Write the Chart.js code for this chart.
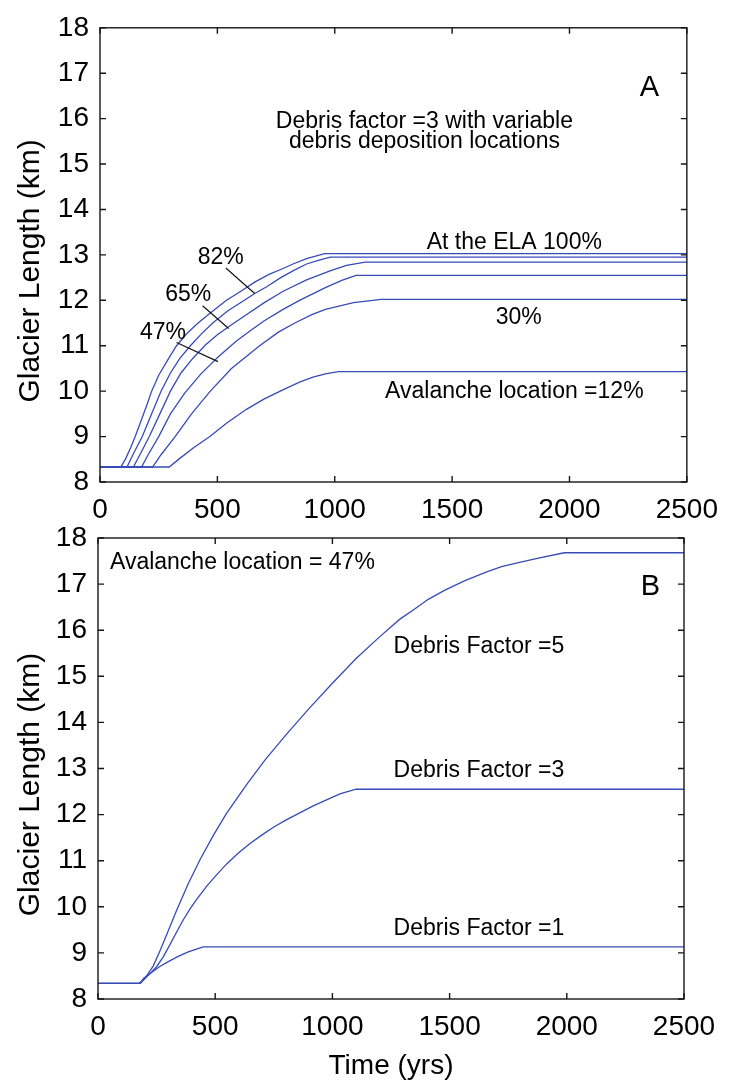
<!DOCTYPE html>
<html>
<head>
<meta charset="utf-8">
<script src="https://cdn.jsdelivr.net/npm/chart.js@4.4.0/dist/chart.umd.min.js"></script>
<style>
  html, body { margin: 0; padding: 0; background: #fff; }
  body { width: 729px; height: 1084px; position: relative; overflow: hidden; }
  .panel { position: absolute; left: 0; width: 729px; }
  #panelA { top: 0; height: 530px; }
  #panelB { top: 510px; height: 574px; }
</style>
</head>
<body>
<div class="panel" id="panelA"><canvas id="chartA"></canvas></div>
<div class="panel" id="panelB"><canvas id="chartB"></canvas></div>
<script>
const timeTicks = [0, 500, 1000, 1500, 2000, 2500];
const lengthTicks = [8, 9, 10, 11, 12, 13, 14, 15, 16, 17, 18];

// panel A: debris factor 3, avalanche location (% of distance to ELA)
// pairs are [time (yrs), glacier length (km)]
const ela100 = [[0,8.33],[89,8.33],[110,8.52],[130,8.75],[150,9.0],[175,9.35],[200,9.7],[220,10.0],[250,10.35],[290,10.7],[326,11.0],[370,11.27],[418,11.5],[470,11.72],[539,12.0],[600,12.2],[659,12.4],[720,12.57],[780,12.7],[822,12.8],[880,12.92],[957,13.03],[2500,13.03]];
const ela82 = [[0,8.33],[115,8.33],[140,8.6],[180,9.0],[220,9.5],[260,10.0],[300,10.4],[340,10.72],[385,11.0],[430,11.25],[480,11.5],[545,11.77],[615,12.0],[659,12.15],[710,12.3],[770,12.5],[830,12.67],[880,12.8],[930,12.88],[981,12.95],[2500,12.95]];
const ela65 = [[0,8.33],[142,8.33],[170,8.6],[210,9.0],[255,9.5],[300,10.0],[345,10.4],[395,10.72],[450,11.02],[500,11.24],[548,11.42],[620,11.67],[700,11.95],[780,12.2],[880,12.45],[980,12.65],[1050,12.77],[1130,12.84],[2500,12.84]];
const ela47 = [[0,8.33],[177,8.33],[205,8.6],[250,9.0],[300,9.5],[360,9.95],[430,10.38],[503,10.75],[580,11.1],[640,11.33],[700,11.55],[780,11.8],[850,12.0],[960,12.28],[1030,12.44],[1091,12.55],[2500,12.55]];
const ela30 = [[0,8.33],[224,8.33],[260,8.6],[320,9.0],[390,9.5],[470,10.0],[560,10.5],[680,11.0],[760,11.3],[830,11.5],[900,11.68],[960,11.8],[1080,11.95],[1198,12.02],[2500,12.02]];
const ela12 = [[0,8.33],[295,8.33],[340,8.52],[400,8.76],[468,9.0],[540,9.3],[624,9.6],[700,9.83],[779,10.03],[850,10.2],[907,10.31],[960,10.38],[1016,10.43],[2500,10.43]];

// panel B: avalanche location 47%, varying debris factor
const factor5 = [[0,8.34],[176,8.34],[200,8.45],[236,8.72],[265,9.05],[295,9.42],[336,9.93],[385,10.5],[435,11.02],[492,11.55],[549,12.03],[634,12.65],[712,13.18],[800,13.72],[900,14.3],[1000,14.85],[1100,15.38],[1200,15.85],[1288,16.24],[1348,16.45],[1409,16.67],[1480,16.87],[1563,17.07],[1661,17.27],[1722,17.38],[1789,17.46],[1874,17.56],[1989,17.68],[2500,17.68]];
const factor3 = [[0,8.34],[180,8.34],[208,8.48],[250,8.7],[279,8.92],[307,9.18],[336,9.46],[364,9.72],[392,9.95],[421,10.16],[464,10.45],[500,10.66],[549,10.93],[600,11.17],[650,11.38],[700,11.56],[750,11.73],[805,11.89],[869,12.06],[918,12.19],[975,12.32],[1032,12.45],[1101,12.55],[2500,12.55]];
const factor1 = [[0,8.34],[180,8.34],[195,8.45],[230,8.58],[262,8.7],[300,8.81],[340,8.92],[385,9.02],[420,9.08],[449,9.13],[2500,9.13]];

const notesA = [
  { text: 'Debris factor =3 with variable', t: 1382, L: 15.79 },
  { text: 'debris deposition locations', t: 1382, L: 15.35 },
  { text: 'At the ELA 100%', t: 1765, L: 13.14 },
  { text: '30%', t: 1784, L: 11.48 },
  { text: 'Avalanche location =12%', t: 1765, L: 9.85 },
  { text: '82%', t: 514, L: 12.8 },
  { text: '65%', t: 376, L: 11.98 },
  { text: '47%', t: 268, L: 11.14 },
  { text: 'A', t: 2341, L: 16.49, big: true }
];
const leadersA = [
  [[536, 12.71], [659, 12.15]],
  [[437, 11.88], [548, 11.38]],
  [[326, 11.07], [503, 10.65]]
];
const notesB = [
  { text: 'Avalanche location = 47%', t: 51, L: 17.32, align: 'left' },
  { text: 'Debris Factor =5', t: 1625, L: 15.51 },
  { text: 'Debris Factor =3', t: 1625, L: 12.82 },
  { text: 'Debris Factor =1', t: 1625, L: 9.39 },
  { text: 'B', t: 2357, L: 16.76, big: true }
];

const FONT = '"Liberation Sans", Arial, Helvetica, sans-serif';
Chart.defaults.font.family = FONT;
Chart.defaults.color = '#000';
const LINE = 'rgb(55, 75, 185)';

// matlab style box with inward ticks, y label and text annotations
const matlabAxes = {
  id: 'matlabAxes',
  afterDatasetsDraw(chart, args, o) {
    const { ctx, chartArea: a, scales: { x, y } } = chart;
    ctx.save();
    ctx.strokeStyle = '#161616';
    ctx.lineWidth = 1.4;
    ctx.strokeRect(a.left, a.top, a.right - a.left, a.bottom - a.top);
    ctx.beginPath();
    timeTicks.forEach(v => {
      const px = x.getPixelForValue(v);
      ctx.moveTo(px, a.bottom); ctx.lineTo(px, a.bottom - 6);
      ctx.moveTo(px, a.top); ctx.lineTo(px, a.top + 6);
    });
    lengthTicks.forEach(v => {
      const py = y.getPixelForValue(v);
      ctx.moveTo(a.left, py); ctx.lineTo(a.left + 6, py);
      ctx.moveTo(a.right, py); ctx.lineTo(a.right - 6, py);
    });
    ctx.stroke();

    ctx.lineWidth = 1.2;
    ctx.beginPath();
    (o.leaders || []).forEach(([p, q]) => {
      ctx.moveTo(x.getPixelForValue(p[0]), y.getPixelForValue(p[1]));
      ctx.lineTo(x.getPixelForValue(q[0]), y.getPixelForValue(q[1]));
    });
    ctx.stroke();

    ctx.fillStyle = '#000';
    ctx.textBaseline = 'alphabetic';
    (o.notes || []).forEach(n => {
      ctx.font = (n.big ? '29px ' : '23px ') + FONT;
      ctx.textAlign = n.align || 'center';
      ctx.fillText(n.text, x.getPixelForValue(n.t), y.getPixelForValue(n.L));
    });

    ctx.font = '30px ' + FONT;
    ctx.textAlign = 'center';
    ctx.textBaseline = 'middle';
    ctx.translate(o.titleX, (a.top + a.bottom) / 2 + o.titleShift);
    ctx.rotate(-Math.PI / 2);
    ctx.fillText('Glacier Length (km)', 0, 0);
    ctx.restore();
  }
};

function series(data) {
  return { data, borderColor: LINE, borderWidth: 1.3, pointRadius: 0, tension: 0, fill: false };
}

function makeChart(id, datasets, cfg) {
  return new Chart(document.getElementById(id), {
    type: 'line',
    data: { datasets: datasets.map(series) },
    options: {
      responsive: true,
      maintainAspectRatio: false,
      animation: false,
      layout: { padding: cfg.padding },
      plugins: {
        legend: { display: false },
        tooltip: { enabled: false },
        matlabAxes: { notes: cfg.notes, leaders: cfg.leaders, titleX: 31, titleShift: cfg.titleShift }
      },
      scales: {
        x: {
          type: 'linear', min: 0, max: 2500,
          afterBuildTicks: s => { s.ticks = timeTicks.map(value => ({ value })); },
          afterFit: s => { s.height = cfg.xHeight; },
          grid: { display: false, drawTicks: false },
          border: { display: false },
          ticks: { font: { size: 28 }, padding: 11, maxRotation: 0, callback: v => String(v) },
          title: { display: !!cfg.xTitle, text: cfg.xTitle, font: { size: 28 }, padding: { top: 0, bottom: 1 } }
        },
        y: {
          type: 'linear', min: 8, max: 18,
          afterBuildTicks: s => { s.ticks = lengthTicks.map(value => ({ value })); },
          afterFit: s => { s.width = cfg.yWidth; },
          grid: { display: false, drawTicks: false },
          border: { display: false },
          ticks: { font: { size: 28 }, padding: 11, callback: v => String(v) }
        }
      }
    },
    plugins: [matlabAxes]
  });
}

makeChart('chartA', [ela100, ela82, ela65, ela47, ela30, ela12], {
  padding: { top: 21, right: 41, bottom: 0, left: 0 },
  xHeight: 48, yWidth: 100, notes: notesA, leaders: leadersA, titleShift: 16
});
makeChart('chartB', [factor5, factor3, factor1], {
  padding: { top: 28, right: 45, bottom: 0, left: 0 },
  xHeight: 85, yWidth: 98, notes: notesB, titleShift: 16, xTitle: 'Time (yrs)'
});
</script>
</body>
</html>
